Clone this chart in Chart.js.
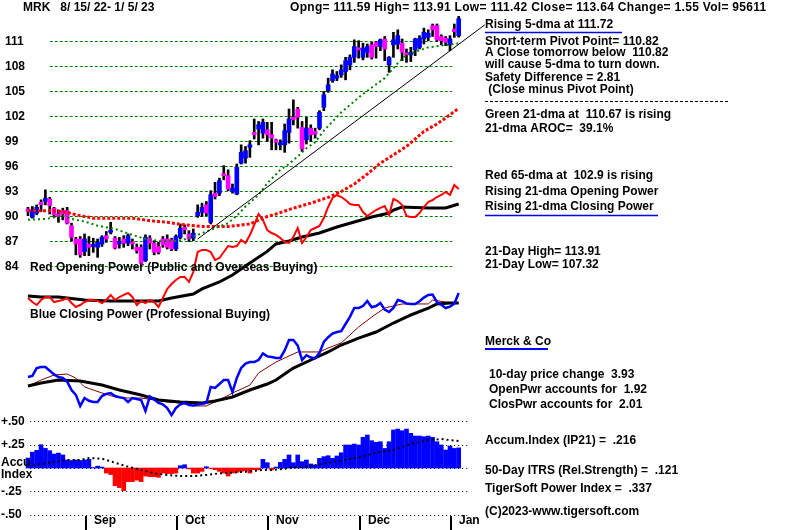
<!DOCTYPE html>
<html>
<head>
<meta charset="utf-8">
<title>MRK - TigerSoft chart</title>
<script src="https://cdn.jsdelivr.net/npm/chart.js@4.4.0/dist/chart.umd.min.js"></script>
<style>
  html, body { margin: 0; padding: 0; background: #fff; }
  #chart { display: block; }
</style>
</head>
<body>
<canvas id="chart" width="800" height="530"></canvas>
<script>
// MRK daily bars 8/15/22 - 1/5/23 with TigerSoft indicators

// Price bars (one per trading day, index 0 = 8/15/22)
const opens = [
  90.8, 89.8, 90.3, 91.6, 91.7, 92.0, 90.9, 90.2, 90.6, 90.6,
  88.8, 87.2, 87.2, 85.7, 86.6, 86.3, 86.2, 86.6, 87.6, 88.0,
  87.3, 86.6, 87.2, 86.7, 86.8, 86.2, 86.2, 84.6, 87.3, 86.7,
  86.3, 87.2, 87.2, 87.1, 86.0, 87.4, 88.6, 87.8, 87.3, 90.0,
  90.4, 91.3, 89.2, 92.7, 92.7, 94.9, 94.8, 92.9, 92.6, 96.3,
  96.9, 98.2, 100.0, 100.4, 99.9, 100.3, 99.7, 99.1, 98.5, 98.5,
  100.0, 101.8, 102.8, 100.6, 99.1, 100.5, 100.1, 100.5, 103.0, 105.0,
  106.2, 106.5, 106.9, 107.3, 108.1, 109.0, 110.1, 109.0, 109.6, 110.5,
  110.8, 110.3, 111.2, 108.1, 110.5, 110.6, 110.7, 109.5, 109.3, 109.9,
  110.2, 111.2, 111.4, 112.8, 112.8, 111.5, 111.3, 110.5, 112.4, 111.59
];
const highs = [
  91.0, 91.1, 91.3, 91.9, 93.1, 92.2, 91.0, 90.7, 90.9, 91.0,
  89.1, 87.4, 87.5, 87.8, 87.5, 87.3, 87.2, 87.6, 88.1, 89.2,
  87.5, 87.4, 87.6, 87.8, 87.2, 86.6, 86.5, 87.7, 87.6, 87.0,
  86.8, 87.5, 87.7, 87.3, 87.7, 89.0, 88.9, 88.2, 88.4, 91.3,
  91.5, 91.7, 93.0, 94.0, 94.5, 96.0, 95.5, 93.8, 96.2, 98.5,
  98.3, 99.0, 101.6, 101.3, 101.6, 101.2, 101.2, 99.2, 99.1, 101.0,
  102.8, 103.9, 103.0, 101.3, 101.8, 100.9, 100.5, 102.6, 104.9, 106.5,
  107.5, 107.3, 108.1, 109.0, 109.3, 111.1, 111.0, 110.7, 110.6, 110.8,
  110.9, 111.2, 111.5, 109.1, 112.0, 112.3, 111.2, 110.0, 110.2, 111.3,
  111.6, 112.5, 112.3, 113.0, 113.0, 111.7, 111.5, 111.6, 113.0, 113.91
];
const lows = [
  90.0, 89.7, 90.1, 90.5, 91.3, 90.2, 89.8, 89.2, 89.5, 89.0,
  87.0, 85.3, 85.0, 85.2, 85.2, 85.6, 85.0, 86.3, 86.8, 87.8,
  86.0, 86.1, 86.2, 86.4, 86.0, 85.5, 84.2, 84.5, 86.0, 85.3,
  85.4, 86.2, 86.0, 85.8, 85.8, 87.2, 87.8, 86.9, 87.0, 89.8,
  89.9, 90.0, 89.0, 92.0, 92.4, 94.3, 93.0, 92.7, 92.5, 96.2,
  96.3, 97.0, 99.2, 98.5, 99.3, 98.9, 97.9, 97.9, 97.9, 97.6,
  98.7, 100.9, 100.5, 97.7, 98.6, 98.9, 99.3, 100.3, 102.6, 104.8,
  106.0, 106.2, 106.6, 106.3, 107.5, 108.4, 108.9, 108.7, 109.0, 108.8,
  108.9, 109.8, 108.6, 107.2, 109.0, 110.0, 108.6, 108.4, 108.5, 109.2,
  110.0, 110.6, 111.0, 111.5, 110.9, 110.5, 110.4, 109.8, 111.4, 111.42
];
const closes = [
  90.5, 90.7, 91.0, 91.3, 92.1, 91.2, 90.1, 89.9, 90.2, 89.1,
  87.4, 86.6, 85.3, 87.2, 86.2, 86.5, 86.8, 87.4, 87.2, 88.2,
  86.1, 86.9, 86.7, 87.6, 86.6, 85.8, 84.3, 87.4, 86.7, 85.6,
  85.6, 86.5, 86.2, 86.0, 87.5, 88.5, 88.3, 87.2, 87.9, 90.4,
  91.0, 90.3, 92.5, 92.3, 94.2, 94.8, 93.2, 93.3, 95.8, 97.6,
  97.8, 98.5, 99.7, 100.9, 101.2, 99.7, 99.3, 98.8, 98.7, 100.2,
  101.6, 101.5, 101.8, 98.0, 100.5, 99.7, 99.8, 102.4, 104.5, 105.7,
  107.0, 106.8, 107.5, 108.6, 109.0, 110.3, 109.9, 110.1, 110.3, 109.0,
  110.3, 111.1, 110.0, 109.0, 111.1, 111.6, 109.6, 109.3, 109.6, 111.2,
  111.3, 112.0, 111.9, 112.3, 111.1, 111.0, 110.8, 111.2, 112.09, 113.64
];

// Moving averages as [day index, value]
const ma21 = [
  [0, 89.5], [4, 89.6], [8, 90.0], [10, 89.6], [13, 89.3], [16, 88.8], [20, 88.4],
  [24, 87.7], [27, 87.2], [31, 86.9], [35, 87.0], [38, 87.5], [42, 88.3], [46, 89.1],
  [48, 90.0], [50, 91.1], [53, 92.5], [55, 93.9], [58, 95.5], [60, 96.2], [62, 97.1],
  [64, 98.1], [66, 98.8], [68, 100.2], [72, 102.4], [77, 104.6], [82, 106.5],
  [85, 108.3], [87, 109.3], [92, 110.2], [99, 110.67]
];
const ma65 = [
  [0, 90.6], [6, 90.6], [9, 90.4], [11, 90.1], [15, 89.7], [24, 89.7], [28, 89.4],
  [32, 89.2], [36, 88.9], [40, 88.7], [46, 88.7], [51, 89.0], [55, 89.9], [57, 90.2],
  [61, 90.9], [65, 91.5], [69, 92.2], [72, 92.9], [75, 93.8], [78, 95.0], [81, 96.3],
  [84, 97.3], [87, 98.3], [89, 99.2], [91, 100.1], [94, 101.0], [97, 102.1], [99, 102.9]
];
// short-term trendline under the rally
const trendLine = [[39, 87.2], [105, 112.9]];

// Opening Power (red) and its 21-dma (black), unitless
const openPower = [
  1.7, -1.7, -4.2, 0, 2.5, 2.5, -1.7, -0.8, 0, 1.7,
  -2.5, -5.8, -4.2, -1.7, 0, 0, -0.8, -2.5, 0, 4.2,
  0, 2.5, 4.2, 5.8, 2.5, -4.2, -0.8, -2.5, 0, -1.7,
  -5.8, 1.7, 9.2, 13.3, 16.7, 19.2, 19.2, 15, 23.3, 40,
  41.7, 41.7, 40, 33.3, 35, 40, 45, 44.2, 45, 50,
  47.5, 54.2, 62.5, 71.7, 66.7, 58.3, 55.8, 54.2, 51.7, 48.3,
  47.5, 52.5, 60, 47.5, 52.5, 58.3, 60, 61.7, 68.3, 77.5,
  85, 87.5, 85.8, 83.3, 80, 79.2, 79.2, 73.3, 70, 72.5,
  75, 76.7, 78.3, 70.8, 84.2, 82.5, 79.2, 70, 69.2, 69.2,
  72.5, 77.5, 81.7, 83.3, 85.8, 87.5, 90, 87.5, 95.8, 92.5
];
const openPowerMa = [
  [0, 3.3], [3, 2.5], [7, 2.5], [13, 0], [19, -0.8], [24, -0.8], [30, -0.8], [33, 1.7],
  [38, 5], [40, 9.2], [44, 15], [47, 20.8], [51, 30.8], [55, 40.5], [57, 46.7],
  [60, 49.2], [63, 52.5], [67, 55.8], [71, 60.8], [75, 65], [79, 69.2], [83, 72.5],
  [84, 75], [86, 77.5], [92, 76.7], [96, 76.7], [99, 80]
];

// Closing Power (blue), its 21-dma (dark red) and 65-dma (black), unitless
const closePower = [
  35.8, 36.7, 43.3, 44.2, 44.2, 41, 38, 35.8, 35, 32,
  25, 21, 11.7, 18.3, 16, 15, 15, 20, 21.7, 22.5,
  20, 19, 18.3, 15, 18.3, 17.5, 16.7, 7.5, 19.5, 17,
  14.2, 13, 10, 4, 10, 13, 14.2, 12.5, 12, 13,
  13.5, 14.2, 27.5, 26.7, 30, 33.3, 33.3, 23.3, 35, 43.3,
  47, 48.3, 48.3, 50, 55.5, 53, 52.5, 51.7, 51.7, 58,
  66.7, 66.7, 62, 50, 54, 52, 51.5, 56, 65, 69,
  72, 73.3, 74, 80, 86, 93.3, 93.3, 95, 99.2, 94,
  95, 97.5, 92, 90, 93.3, 100, 99, 97, 96.7, 96.7,
  99, 102, 104.2, 104.5, 98.3, 96, 93.3, 94.5, 97, 105.8
];
const closePowerMa21 = [
  [0, 28.3], [3, 33.3], [6, 37.5], [9, 38.3], [11, 35], [13, 27.5], [17, 22.5],
  [20, 19.2], [23, 18.3], [26, 18.3], [29, 16.7], [32, 15], [35, 14.2], [38, 11.7],
  [41, 11.7], [44, 16.7], [47, 22.5], [51, 29], [53, 39.2], [57, 48.3], [62, 56.7],
  [67, 56.7], [69, 60], [72, 64.2], [76, 77.5], [79, 85.8], [82, 93.3], [86, 96.7],
  [92, 96.7], [93, 100], [96, 98.3], [99, 97.5]
];
const closePowerMa65 = [
  [0, 28.3], [3, 30.8], [7, 33.3], [12, 32.5], [17, 29.2], [21, 25], [26, 20.8],
  [30, 16.7], [35, 15], [40, 14.2], [43, 15.8], [47, 19.2], [51, 25], [55, 30],
  [57, 33.3], [61, 43.3], [65, 50], [69, 56.7], [72, 62.5], [76, 68.3], [80, 73.3],
  [84, 80.8], [88, 87.5], [92, 93.3], [94, 96.7], [97, 97.5], [99, 97.5]
];

// Accumulation Index (IP21) and its moving average
const accumIndex = [
  0.107, 0.17, 0.19, 0.25, 0.21, 0.186, 0.15, 0.16, 0.14, 0.086,
  0.08, 0.086, 0.08, 0.086, 0.093, 0.005, 0.02, 0.01, -0.054, -0.07,
  -0.19, -0.21, -0.243, -0.146, -0.146, -0.13, -0.146, -0.086, -0.093, -0.093,
  -0.1, -0.054, -0.06, -0.06, -0.054, 0.025, 0.035, -0.01, -0.054, -0.054,
  -0.036, 0.014, -0.005, -0.018, -0.036, -0.054, -0.086, -0.054, -0.047, -0.036,
  -0.03, -0.054, -0.018, -0.02, 0.093, 0.057, -0.02, 0.01, 0.06, 0.093,
  0.14, 0.057, 0.14, 0.068, 0.086, 0.043, 0.032, 0.104, 0.122, 0.132,
  0.104, 0.129, 0.164, 0.247, 0.247, 0.257, 0.247, 0.329, 0.354, 0.293,
  0.275, 0.282, 0.21, 0.282, 0.408, 0.418, 0.4, 0.418, 0.372, 0.343,
  0.343, 0.336, 0.343, 0.329, 0.282, 0.247, 0.193, 0.236, 0.21, 0.216
];
const accumMa = [
  [0, 0.032], [3, 0.04], [6, 0.068], [9, 0.086], [12, 0.086], [14, 0.107], [17, 0.1],
  [20, 0.057], [23, 0.014], [26, -0.021], [29, -0.057], [32, -0.075], [35, -0.086],
  [38, -0.086], [41, -0.075], [44, -0.057], [47, -0.05], [50, -0.039], [54, -0.021],
  [56, -0.021], [58, -0.014], [61, 0.007], [65, 0.021], [69, 0.057], [72, 0.079],
  [76, 0.114], [80, 0.164], [84, 0.193], [88, 0.257], [92, 0.3], [95, 0.311],
  [97, 0.3], [99, 0.29]
];

// Axis labels
const priceTicks = [111, 108, 105, 102, 99, 96, 93, 90, 87, 84];
const accumTicks = [0.5, 0.25, 0, -0.25, -0.5];
const accumTickLabels = ['+.50', '+.25', '', '-.25', '-.50'];
const monthNames = ['Sep', 'Oct', 'Nov', 'Dec', 'Jan'];
const monthStarts = [13, 34, 55, 76, 97];

const FONT = 'bold 12px "Liberation Sans", Arial, sans-serif';
const BLUE = '#0000ff';
const MAGENTA = '#ff00ff';
const RED = '#ff0000';
const GREEN = '#008000';

const pairs = list => list.map(p => ({ x: p[0], y: p[1] }));
const daily = list => list.map((v, i) => ({ x: i, y: v }));

// Grid lines, axis labels and the TigerSoft text block
const tigerSoftPlugin = {
  id: 'tigerSoft',
  beforeDatasetsDraw(chart) {
    const ctx = chart.ctx;
    const xs = chart.scales.x;
    const ps = chart.scales.y;
    const as = chart.scales.acc;
    ctx.save();
    ctx.lineWidth = 1;

    // green dashed price grid
    ctx.strokeStyle = GREEN;
    ctx.setLineDash([3, 2]);
    priceTicks.forEach(v => {
      const py = Math.round(ps.getPixelForValue(v)) + 0.5;
      ctx.beginPath();
      ctx.moveTo(xs.getPixelForValue(5), py);
      ctx.lineTo(xs.getPixelForValue(97.5), py);
      ctx.stroke();
    });

    // black dotted accumulation grid
    ctx.strokeStyle = '#000';
    ctx.setLineDash([1, 3]);
    accumTicks.forEach(v => {
      const py = Math.round(as.getPixelForValue(v)) + 0.5;
      ctx.beginPath();
      ctx.moveTo(xs.getPixelForValue(0.5), py);
      ctx.lineTo(xs.getPixelForValue(101.5), py);
      ctx.stroke();
    });
    ctx.restore();
  },
  afterDraw(chart) {
    const ctx = chart.ctx;
    const xs = chart.scales.x;
    const ps = chart.scales.y;
    const as = chart.scales.acc;
    ctx.save();
    ctx.font = FONT;
    ctx.fillStyle = '#000';
    ctx.textBaseline = 'middle';
    ctx.textAlign = 'left';

    // price axis
    priceTicks.forEach(v => ctx.fillText(String(v), 5, ps.getPixelForValue(v) + 1));

    // accumulation axis
    accumTicks.forEach((v, i) => {
      if (accumTickLabels[i]) ctx.fillText(accumTickLabels[i], 1, as.getPixelForValue(v));
    });
    const zeroY = as.getPixelForValue(0);
    ctx.fillText('Accu', 1, zeroY - 5);
    ctx.fillText('Index', 1, zeroY + 7);

    // month separators and names
    const bottom = chart.chartArea.bottom;
    ctx.strokeStyle = '#000';
    ctx.lineWidth = 2;
    monthStarts.forEach((d, i) => {
      const mx = Math.round(xs.getPixelForValue(d)) + 1;
      ctx.beginPath();
      ctx.moveTo(mx, bottom + 1);
      ctx.lineTo(mx, bottom + 15);
      ctx.stroke();
      ctx.fillText(monthNames[i], mx + 8, bottom + 6);
    });

    // titles
    ctx.fillText('MRK   8/ 15/ 22- 1/ 5/ 23', 23, 8);
    ctx.letterSpacing = '0.3px';
    ctx.fillText('Opng= 111.59 High= 113.91 Low= 111.42 Close= 113.64 Change= 1.55 Vol= 95611', 290, 8);
    ctx.letterSpacing = '0px';
    ctx.fillText('Red Opening Power (Public and Overseas Buying)', 30, 268);
    ctx.fillText('Blue Closing Power (Professional Buying)', 30, 315);

    // right-hand commentary
    const lines = [
      ['Rising 5-dma at 111.72', 485, 25],
      ['Short-term Pivot Point= 110.82', 485, 42],
      ['A Close tomorrow below  110.82', 485, 53],
      ['will cause 5-dma to turn down.', 485, 65],
      ['Safety Difference = 2.81', 485, 78],
      [' (Close minus Pivot Point)', 485, 90],
      ['Green 21-dma at  110.67 is rising', 485, 115],
      ['21-dma AROC=  39.1%', 485, 129],
      ['Red 65-dma at  102.9 is rising', 485, 176],
      ['Rising 21-dma Opening Power', 485, 192],
      ['Rising 21-dma Closing Power', 485, 207],
      ['21-Day High= 113.91', 485, 252],
      ['21-Day Low= 107.32', 485, 265],
      ['Merck & Co', 485, 342],
      ['10-day price change  3.93', 489, 375],
      ['OpenPwr accounts for  1.92', 489, 390],
      ['ClosPwr accounts for  2.01', 489, 405],
      ['Accum.Index (IP21) =  .216', 485, 441],
      ['50-Day ITRS (Rel.Strength) =  .121', 485, 471],
      ['TigerSoft Power Index =  .337', 485, 489],
      ['(C)2023-www.tigersoft.com', 485, 512]
    ];
    lines.forEach(l => ctx.fillText(l[0], l[1], l[2]));

    // blue underlines
    ctx.strokeStyle = BLUE;
    ctx.lineWidth = 1.5;
    [[485, 622, 32.5], [485, 658, 215.5]].forEach(u => {
      ctx.beginPath();
      ctx.moveTo(u[0], u[2]);
      ctx.lineTo(u[1], u[2]);
      ctx.stroke();
    });
    ctx.lineWidth = 2;
    ctx.beginPath();
    ctx.moveTo(485, 349);
    ctx.lineTo(548, 349);
    ctx.stroke();

    // dashed separator
    ctx.strokeStyle = '#000';
    ctx.lineWidth = 1;
    ctx.setLineDash([3, 2]);
    ctx.beginPath();
    ctx.moveTo(485, 101.5);
    ctx.lineTo(728, 101.5);
    ctx.stroke();
    ctx.restore();
  }
};

const lineSet = (data, axis, color, width, dash) => ({
  type: 'line',
  data: data,
  yAxisID: axis,
  borderColor: color,
  borderWidth: width,
  borderDash: dash || [],
  pointRadius: 0,
  tension: 0,
  fill: false,
  clip: false
});

const bodyColors = opens.map((o, i) => (closes[i] >= o ? BLUE : MAGENTA));
const accumColors = accumIndex.map(v => (v >= 0 ? BLUE : RED));

new Chart(document.getElementById('chart'), {
  type: 'bar',
  data: {
    datasets: [
      lineSet(pairs(trendLine), 'y', '#000', 1),
      lineSet(pairs(ma21), 'y', GREEN, 2, [2, 3]),
      lineSet(pairs(ma65), 'y', RED, 3, [3, 2]),
      {
        type: 'bar',
        data: opens.map((o, i) => ({ x: i, y: [o, closes[i]] })),
        yAxisID: 'y',
        backgroundColor: bodyColors,
        barThickness: 4,
        minBarLength: 2,
        grouped: false,
        clip: false
      },
      {
        type: 'bar',
        data: lows.map((l, i) => ({ x: i, y: [l, highs[i]] })),
        yAxisID: 'y',
        backgroundColor: '#000',
        barThickness: 2,
        grouped: false,
        clip: false
      },
      lineSet(daily(openPower), 'op', RED, 2),
      lineSet(pairs(openPowerMa), 'op', '#000', 3),
      lineSet(daily(closePower), 'cp', BLUE, 2.5),
      lineSet(pairs(closePowerMa65), 'cp', '#000', 3),
      lineSet(pairs(closePowerMa21), 'cp', '#800000', 1),
      lineSet(pairs(accumMa), 'acc', '#000', 2, [2, 3]),
      {
        type: 'bar',
        data: daily(accumIndex),
        yAxisID: 'acc',
        backgroundColor: accumColors,
        barThickness: 4,
        grouped: false,
        clip: false
      }
    ]
  },
  options: {
    responsive: false,
    animation: false,
    devicePixelRatio: 1,
    layout: { padding: { left: 28, right: 330, top: 0, bottom: 15 } },
    plugins: { legend: { display: false }, tooltip: { enabled: false } },
    scales: {
      x: { type: 'linear', min: 0, max: 101.6, offset: false, display: false },
      y: { type: 'linear', min: 54.08, max: 115.88, display: false },
      op: { type: 'linear', min: -179.17, max: 250, display: false },
      cp: { type: 'linear', min: -79.17, max: 350, display: false },
      acc: { type: 'linear', min: -0.504, max: 5.02, display: false }
    }
  },
  plugins: [tigerSoftPlugin]
});
</script>
</body>
</html>
